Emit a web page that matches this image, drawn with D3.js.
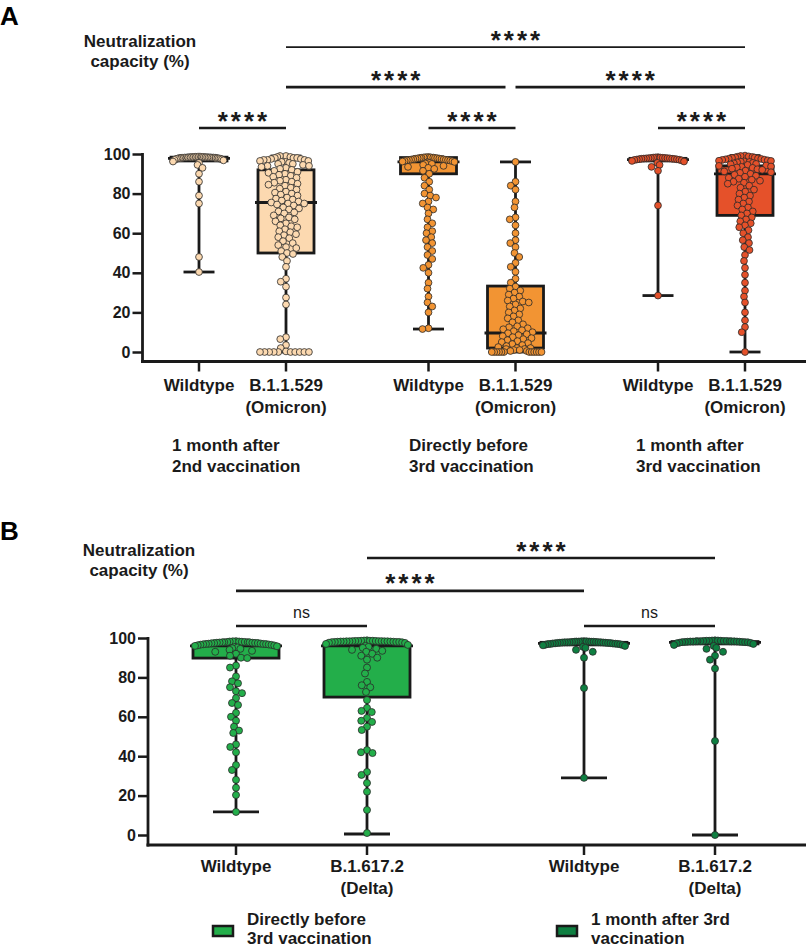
<!DOCTYPE html>
<html>
<head>
<meta charset="utf-8">
<script src="https://cdn.jsdelivr.net/npm/d3@7"></script>
<style>
  body { margin: 0; background: #fff; }
  svg { display: block; font-family: "Liberation Sans", Arial, sans-serif; }
</style>
</head>
<body>
<svg id="chart" width="806" height="948"></svg>
<script>
// ---------------- DATA ----------------
const yTicks = [0, 20, 40, 60, 80, 100];

// Panel A
const groupsA = ["1 month after|2nd vaccination", "Directly before|3rd vaccination", "1 month after|3rd vaccination"];
const variantsA = ["Wildtype", "B.1.1.529|(Omicron)"];
const colorsA = ["#fcd9b0", "#f29433", "#e5512a"];

const wtA1 = [98.6,98.4,98.5,98.2,98.7,98.3,98.5,98.1,98.6,98.4,98.0,98.3,98.5,98.2,97.9,98.4,98.6,98.1,98.3,97.8,98.5,98.2,98.0,97.7,98.4,97.6,98.1,97.5,97.9,97.3,98.2,97.0,96.8,96.2,95.5,94.5,93.0,90.0,86.0,79.0,75.0,48.0,40.4];
const omA1 = [0,0,0,0,0,0,0,0,0,0,0.3,2,3.5,6.5,7.5,24,27.5,33,35.5,37,43,46,48,49.5,50,51,52.5,53,54,55,56,57.5,58,59,59.5,60.5,61,62,63,63.5,64,65,66,67,67.5,68,69,70,70.5,71,72,72.5,73,74,74.5,75,75,75.5,76,76.5,77,77.5,78,79,79.5,80,80.5,81,82,82.5,83,84,84.5,85,85.5,86,86.5,87,88,88.5,89,89.5,90,90.5,91,91.5,92,92.5,93,93.5,94,94,94.5,95,95,95.5,96,96,96.5,96.5,97,97,97,97.5,97.5,98,98,98,98.5,98.5,99,99];
const wtA2 = [98.5,98.3,98.0,97.8,98.4,97.5,98.1,97.2,97.9,96.8,98.2,97.0,96.5,97.6,96.2,98.0,95.8,97.3,96.0,95.5,97.7,95.0,96.7,94.5,97.4,94.0,96.4,93.5,95.2,98.3,97.1,96.9,93.0,92.5,91.5,90,88,86,84,82,80,79,78,76,75,73,72,70,67,65,63,61,60,58,56.5,55,53,51,49,47,44,42.5,40,35,32,28,25,23,20,12,11.6];
const omA2 = [0,0,0,0,0,0,0,0,0,0,0,0,0.5,0.5,1,1,1.5,1.5,2,2,2.5,3,3.5,4,4.5,5,5.5,6,6.5,7,7.5,8,8.5,9,9.5,10,10.5,11,11.5,12,12.5,13,14,15,16,17,18,19,20,21,22,23,24,25,25.5,26,27,28,29,30,31,32,33,35,37,40.5,43,45,48,50,53,55,56.5,60,64,67,68,73,76,82,84,86,96];
const wtA3 = [98.2,97.9,98.0,97.6,98.3,97.4,97.8,98.1,97.2,97.7,98.4,97.0,97.5,98.0,96.8,97.3,97.9,96.5,97.6,98.2,97.1,96.2,97.8,95.5,94.5,93.5,91.5,74,28.5];
const omA3 = [99.2,99,98.8,98.6,98.5,98.3,98.2,98,97.8,97.6,97.5,97.3,97.1,97,96.8,96.6,96.5,96.3,96.1,96,95.8,95.5,95.3,95,94.8,94.5,94.2,94,93.7,93.5,93.2,93,92.6,92.3,92,91.6,91.2,90.8,90.5,90,89.5,89,88.5,88,87.5,87,86.5,86,85.5,85,84,83,82,81,80,79,78,77,76,75,74,73,72,71,70,69,68,67,66,65,64,63,61.5,60,58,56.5,55,53,51.5,49,46,42.5,39,35,31,28,25,20,16,12.6,10,0];
// box stats: [min, q1, median, q3, max]
const boxA = [
  [40.4, 96.5, 97.8, 98.4, 98.7],
  [0, 50, 75.5, 92, 99],
  [11.6, 90, 96, 98.2, 98.5],
  [0, 2, 9.6, 33.3, 96],
  [28.5, 96.5, 97.2, 97.8, 98.4],
  [0, 69, 90, 94, 99.2]
];
const sigA = [ // [from index, to index, level, label]
  [0, 1, 113.1, "****"], [2, 3, 113.1, "****"], [4, 5, 113.1, "****"],
  [1, 3, 133.8, "****"], [3, 5, 133.8, "****"],
  [1, 5, 154, "****"]
];

// Panel B
const groupsB = ["Directly before|3rd vaccination", "1 month after 3rd|vaccination"];
const variantsB = ["Wildtype", "B.1.617.2|(Delta)"];
const colorsB = ["#23ae4a", "#0e7f41"];

const wtB1 = [98.2,97.9,98.0,97.6,98.3,97.4,97.8,98.1,97.2,97.7,98.4,97.0,97.5,98.0,96.8,97.3,97.9,96.5,97.6,98.2,97.1,96.2,97.8,96.0,96.6,97.4,95.8,96.9,95.5,97.0,96.3,95.2,96.7,94.8,94.5,94,93.5,93,92,91,90,89.8,86,85,80.5,78,77,75,73,72,69.5,67,66,62,60,58,55,53,51.8,46,44.7,42,35.5,33,28,24,20.3,11.7];
const deB1 = [98.8,98.6,98.5,98.4,98.3,98.2,98.1,98.0,98.7,98.5,98.3,98.6,98.2,98.4,98.0,98.1,98.5,98.3,98.6,97.9,98.4,98.2,98.0,97.8,97.6,98.3,97.5,97.0,96.5,96.0,95.5,95.0,94.5,94.0,93.5,93,92,91,90,89,85,82,77.7,76,75,72.6,68.5,64.5,63,62.4,59.4,58,57.4,55,53.3,43.1,42,41.6,32,30.5,26.4,22,12.7,1];
const wtB2 = [98.3,98.1,97.9,98.2,97.8,98.0,97.6,98.4,97.5,98.1,97.7,97.3,98.2,97.9,97.0,97.6,98.3,97.2,97.8,96.8,97.5,98.0,97.1,96.5,97.4,98.1,96.9,97.7,96.3,97.2,98.2,97.0,96.6,97.8,96.0,95.5,95,94,93,90,74.6,29];
const deB2 = [98.8,98.5,98.7,98.4,98.6,98.3,98.5,98.2,98.7,98.4,98.1,98.6,98.3,98.0,98.5,98.2,97.9,98.4,98.1,97.8,98.6,98.3,97.6,98.0,97.5,98.2,97.3,97.9,97.0,96.5,96,95,94.5,93,91,89,84.5,47.7,0];
const boxB = [
  [11.7, 89.8, 96, 96.5, 98.4],
  [0.5, 70, 96, 96.5, 98.8],
  [29, 96.5, 97.3, 97.8, 98.4],
  [0, 97, 97.8, 98.2, 98.8]
];
const sigB = [
  [0, 1, 106.1, "ns"], [2, 3, 106.1, "ns"],
  [0, 2, 123.9, "****"],
  [1, 3, 140.6, "****"]
];

// ---------------- DRAW ----------------
const svg = d3.select("#chart");
const FONT = "'Liberation Sans', Arial, sans-serif";

// dodge layout, then squeeze each crowded row into the column width
function swarm(values, y, d, step, halfW) {
  const pts = values.map(v => ({ v, y: y(v) })).sort((a, b) => a.y - b.y);
  const placed = [];
  for (const p of pts) {
    let k = 0, off = 0;
    while (true) {
      off = (k % 2 === 0 ? 1 : -1) * Math.ceil(k / 2) * step;
      const hit = placed.some(q => Math.abs(q.y - p.y) < d && ((q.x - off) ** 2 + (q.y - p.y) ** 2) < d * d);
      if (!hit) break;
      k++;
    }
    p.x = off;
    placed.push(p);
  }
  pts.forEach(p => {
    const rowMax = d3.max(pts.filter(q => Math.abs(q.y - p.y) < d * 0.6), q => Math.abs(q.x));
    p.sx = rowMax > halfW ? p.x * halfW / rowMax : p.x;
  });
  return pts;
}

function drawPanel(cfg) {
  const g = svg.append("g");
  const y = d3.scaleLinear().domain([0, 100]).range(cfg.yRange);
  const xG = d3.scalePoint().domain(cfg.groups).range(cfg.groupRange);
  const xI = d3.scalePoint().domain(cfg.variants).range([-cfg.inner, cfg.inner]);
  const cats = [];
  cfg.groups.forEach((gr, gi) => cfg.variants.forEach((va, vi) => cats.push({ gr, va, gi, vi })));
  const xc = i => xG(cats[i].gr) + xI(cats[i].va);

  // panel letter
  g.append("text").attr("x", 0).attr("y", cfg.letterY).attr("font-size", 26).attr("font-weight", "bold")
    .attr("font-family", FONT).text(cfg.letter);

  // y label
  const yl = g.append("text").attr("text-anchor", "middle").attr("font-size", 17).attr("font-weight", "bold")
    .attr("font-family", FONT).attr("fill", "#1a1a1a");
  yl.append("tspan").attr("x", cfg.yLabelX).attr("y", cfg.yLabelY).text("Neutralization");
  yl.append("tspan").attr("x", cfg.yLabelX).attr("y", cfg.yLabelY + 19.5).text("capacity (%)");

  // y axis
  const ya = g.append("g").attr("transform", `translate(${cfg.axisX},0)`)
    .call(d3.axisLeft(y).tickValues(yTicks).tickSize(10).tickPadding(2).tickSizeOuter(0));
  ya.select(".domain").remove();
  ya.selectAll(".tick line").attr("stroke", "#1a1a1a").attr("stroke-width", 2.5);
  ya.selectAll(".tick text").attr("font-size", 16).attr("font-weight", "bold").attr("font-family", FONT).attr("fill", "#1a1a1a");
  g.append("line").attr("x1", cfg.axisX).attr("x2", cfg.axisX).attr("y1", y(100) - 1).attr("y2", cfg.xAxisY + 1.5)
    .attr("stroke", "#1a1a1a").attr("stroke-width", 2.8);

  // x axis
  const xa = g.append("g").attr("transform", `translate(0,${cfg.xAxisY})`);
  xa.append("line").attr("x1", cfg.axisX - 1.5).attr("x2", 806).attr("stroke", "#1a1a1a").attr("stroke-width", 2.8);
  cats.forEach((c, i) => {
    xa.append("line").attr("x1", xc(i)).attr("x2", xc(i)).attr("y1", 0).attr("y2", 10)
      .attr("stroke", "#1a1a1a").attr("stroke-width", 2.5);
    const t = xa.append("text").attr("text-anchor", "middle").attr("font-size", 17).attr("font-weight", "bold")
      .attr("font-family", FONT).attr("fill", "#1a1a1a");
    c.va.split("|").forEach((s, k) => t.append("tspan").attr("x", xc(i)).attr("y", cfg.xLabelDy + k * 22).text(s));
  });

  // group labels (panel A)
  if (cfg.groupLabelY) {
    cfg.groups.forEach((gr, gi) => {
      const t = g.append("text").attr("font-size", 17).attr("font-weight", "bold").attr("font-family", FONT).attr("fill", "#1a1a1a");
      gr.split("|").forEach((s, k) => t.append("tspan").attr("x", xG(gr) + cfg.groupLabelDx[gi]).attr("y", cfg.groupLabelY + k * 21).text(s));
    });
  }

  // boxes
  cats.forEach((c, i) => {
    const [mn, q1, md, q3, mx] = cfg.box[i];
    const cx = xc(i), bw = cfg.boxW, cw = cfg.capW;
    const fill = cfg.colors[c.gi];
    g.append("line").attr("x1", cx).attr("x2", cx).attr("y1", y(mn)).attr("y2", y(mx)).attr("stroke", "#1a1a1a").attr("stroke-width", 2.8);
    [mn, mx].forEach(v => g.append("line").attr("x1", cx - cw / 2).attr("x2", cx + cw / 2).attr("y1", y(v)).attr("y2", y(v))
      .attr("stroke", "#1a1a1a").attr("stroke-width", 2.8));
    g.append("rect").attr("x", cx - bw / 2).attr("y", y(q3)).attr("width", bw).attr("height", Math.max(0.5, y(q1) - y(q3)))
      .attr("fill", fill).attr("stroke", "#1a1a1a").attr("stroke-width", 2.8);
    g.append("line").attr("x1", cx - bw / 2 - 3).attr("x2", cx + bw / 2 + 3).attr("y1", y(md)).attr("y2", y(md))
      .attr("stroke", "#1a1a1a").attr("stroke-width", 2.8);
  });

  // points
  cats.forEach((c, i) => {
    const pts = swarm(cfg.series[i], y, cfg.collide, 0.25, cfg.halfW);
    g.append("g").selectAll("circle").data(pts).join("circle")
      .attr("cx", d => xc(i) + d.sx).attr("cy", d => d.y).attr("r", cfg.r)
      .attr("fill", cfg.colors[c.gi]).attr("stroke", "#2a2a2a").attr("stroke-width", 0.8);
  });

  // significance
  cfg.sig.forEach(([a, b, lv, lab]) => {
    let x1 = xc(a), x2 = xc(b);
    const gap = cfg.sigTrim(a, b);
    x1 += gap[0]; x2 += gap[1];
    const yy = y(lv);
    const thin = cfg.thin(a, b, lv);
    g.append("line").attr("x1", x1).attr("x2", x2).attr("y1", yy).attr("y2", yy)
      .attr("stroke", "#1a1a1a").attr("stroke-width", thin ? 1.6 : 2.6);
    if (lab === "ns") {
      g.append("text").attr("x", (x1 + x2) / 2).attr("y", yy - 8).attr("text-anchor", "middle")
        .attr("font-size", 16).attr("font-family", FONT).attr("fill", "#1a1a1a").text(lab);
    } else {
      g.append("text").attr("x", (x1 + x2) / 2 + 1.5).attr("y", yy + cfg.starDy).attr("text-anchor", "middle")
        .attr("font-size", 26).attr("font-weight", "bold").attr("letter-spacing", 3)
        .attr("font-family", FONT).attr("fill", "#1a1a1a").text(lab);
    }
  });
}

drawPanel({
  letter: "A", letterY: 25,
  groups: groupsA, variants: variantsA, colors: colorsA,
  series: [wtA1, omA1, wtA2, omA2, wtA3, omA3], box: boxA, sig: sigA,
  yRange: [352, 154], groupRange: [242.5, 701.5], inner: 43.5,
  axisX: 142.5, xAxisY: 361.5, xLabelDy: 29, yLabelX: 140, yLabelY: 47,
  groupLabelY: 451, groupLabelDx: [-70.5, -63, -65.5],
  boxW: 56, capW: 31, r: 3.4, collide: 6, halfW: 26,
  starDy: 1.5,
  sigTrim: (a, b) => (a === 1 && b === 3) ? [0, -10] : [0, 0],
  thin: (a, b) => a === 1 && b === 5
});

drawPanel({
  letter: "B", letterY: 540,
  groups: groupsB, variants: variantsB, colors: colorsB,
  series: [wtB1, deB1, wtB2, deB2], box: boxB, sig: sigB,
  yRange: [835, 638], groupRange: [301.5, 649.5], inner: 65.5,
  axisX: 148, xAxisY: 845, xLabelDy: 27, yLabelX: 139, yLabelY: 556,
  groupLabelY: null,
  boxW: 86, capW: 46, r: 3.5, collide: 6.2, halfW: 41,
  starDy: 1.5,
  sigTrim: () => [0, 0],
  thin: () => false
});

// legend (panel B)
const legX = [213, 557];
groupsB.forEach((gr, gi) => {
  const lg = svg.append("g");
  lg.append("rect").attr("x", legX[gi]).attr("y", 926).attr("width", 20).attr("height", 10)
    .attr("fill", colorsB[gi]).attr("stroke", "#1a1a1a").attr("stroke-width", 2.5);
  const t = lg.append("text").attr("font-size", 17).attr("font-weight", "bold").attr("font-family", FONT).attr("fill", "#1a1a1a");
  gr.split("|").forEach((s, k) => t.append("tspan").attr("x", legX[gi] + 34).attr("y", 925 + k * 18.5).text(s));
});
</script>
</body>
</html>
